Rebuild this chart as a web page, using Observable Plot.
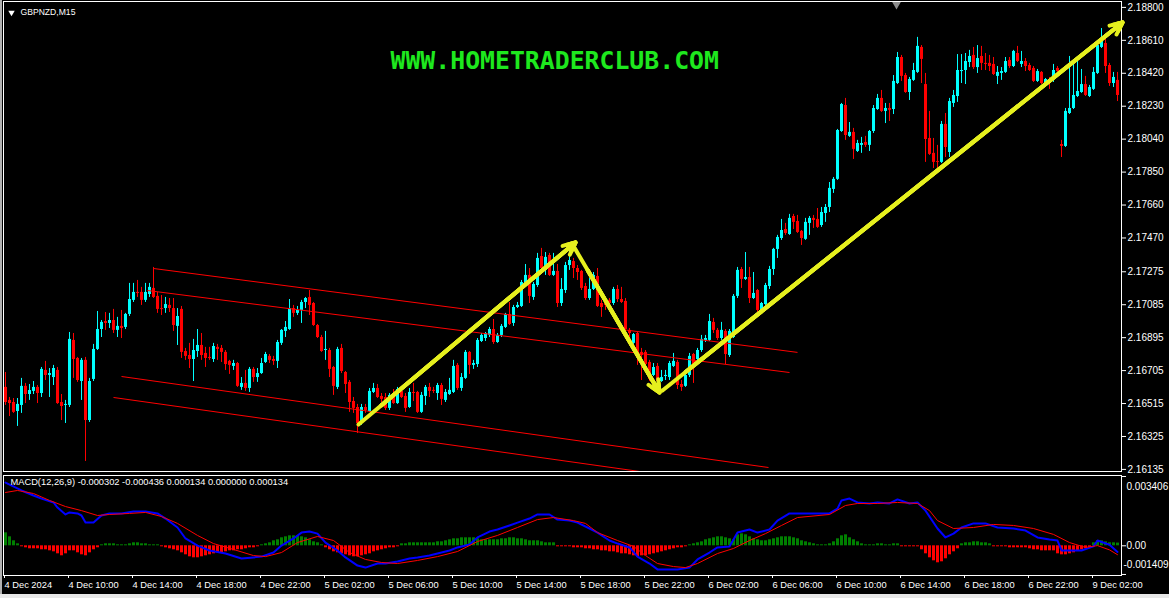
<!DOCTYPE html>
<html>
<head>
<meta charset="utf-8">
<title>GBPNZD,M15</title>
<script src="https://cdn.jsdelivr.net/npm/d3@7"></script>
<script src="https://cdn.jsdelivr.net/npm/@observablehq/plot@0.6"></script>
<style>
  html, body { margin: 0; padding: 0; background: #000; }
  #terminal { position: relative; width: 1169px; height: 598px; background: #000; overflow: hidden; }
  #terminal > svg { position: absolute; left: 0; display: block; }
  .edge { position: absolute; }
</style>
</head>
<body>
<div id="terminal"></div>
<script>
// ---- GBPNZD M15 bars, 4 Dec 2024 06:00 .. 9 Dec 2024 03:30 ----
const candleOpen = [
  2.16608,2.16533,2.16521,2.16469,2.16504,2.16614,2.16567,2.16585,2.16608,2.16573,
  2.16706,2.16677,2.16665,2.16706,2.16521,2.16504,2.16504,2.16879,2.16775,2.16642,
  2.16764,2.16417,2.16654,2.16827,2.16942,2.16988,2.16977,2.16994,2.16937,2.16960,
  2.16954,2.17029,2.17110,2.17156,2.17156,2.17110,2.17144,2.17179,2.17133,2.17063,
  2.17063,2.17081,2.17063,2.16960,2.17058,2.16815,2.16792,2.16769,2.16815,2.16850,
  2.16804,2.16781,2.16769,2.16839,2.16833,2.16810,2.16758,2.16729,2.16746,2.16608,
  2.16631,2.16602,2.16712,2.16665,2.16688,2.16752,2.16787,2.16769,2.16758,2.16862,
  2.16931,2.16942,2.17063,2.17035,2.17052,2.17098,2.17127,2.17092,2.16965,2.16896,
  2.16821,2.16821,2.16723,2.16608,2.16833,2.16694,2.16637,2.16527,2.16492,2.16406,
  2.16492,2.16469,2.16579,2.16602,2.16556,2.16550,2.16487,2.16573,2.16515,2.16585,
  2.16556,2.16492,2.16579,2.16579,2.16464,2.16556,2.16608,2.16591,2.16573,2.16619,
  2.16533,2.16567,2.16579,2.16735,2.16602,2.16660,2.16810,2.16735,2.16740,2.16873,
  2.16890,2.16908,2.16942,2.16867,2.16908,2.16954,2.17029,2.16977,2.17069,2.17075,
  2.17208,2.17254,2.17127,2.17196,2.17363,2.17283,2.17369,2.17254,2.17277,2.17092,
  2.17167,2.17311,2.17334,2.17294,2.17277,2.17190,2.17121,2.17173,2.17248,2.17092,
  2.17098,2.17110,2.17092,2.17173,2.17115,2.17104,2.16937,2.16862,2.16919,2.16810,
  2.16810,2.16752,2.16677,2.16729,2.16642,2.16671,2.16665,2.16729,2.16752,2.16625,
  2.16614,2.16677,2.16798,2.16769,2.16821,2.16879,2.16879,2.16983,2.16937,2.16890,
  2.16931,2.16792,2.16896,2.17133,2.17288,2.17231,2.17242,2.17121,2.17167,2.17046,
  2.17086,2.17190,2.17288,2.17404,2.17467,2.17519,2.17490,2.17594,2.17565,2.17508,
  2.17462,2.17554,2.17583,2.17577,2.17542,2.17611,2.17646,2.17750,2.17808,2.18084,
  2.18234,2.18056,2.18079,2.17969,2.18004,2.18021,2.18004,2.18084,2.18211,2.18275,
  2.18200,2.18217,2.18211,2.18361,2.18511,2.18407,2.18309,2.18379,2.18425,2.18569,
  2.18355,2.18044,2.17958,2.17911,2.17906,2.18125,2.17963,2.18246,2.18286,2.18430,
  2.18436,2.18482,2.18523,2.18453,2.18517,2.18477,2.18477,2.18471,2.18402,2.18419,
  2.18425,2.18494,2.18459,2.18534,2.18471,2.18488,2.18465,2.18448,2.18373,2.18425,
  2.18355,2.18384,2.18384,2.18448,2.18009,2.17998,2.18188,2.18217,2.18286,2.18309,
  2.18355,2.18286,2.18327,2.18419,2.18569,2.18592,2.18465,2.18361,2.18379
];
const candleHigh = [
  2.16694,2.16550,2.16544,2.16544,2.16660,2.16631,2.16625,2.16642,2.16619,2.16723,
  2.16758,2.16717,2.16735,2.16723,2.16567,2.16533,2.16925,2.16919,2.16781,2.16775,
  2.16781,2.16660,2.16856,2.17046,2.16994,2.17040,2.17035,2.17058,2.17012,2.17052,
  2.17035,2.17208,2.17208,2.17225,2.17185,2.17208,2.17208,2.17300,2.17156,2.17138,
  2.17127,2.17121,2.17121,2.17063,2.17075,2.16833,2.16862,2.16885,2.16942,2.16919,
  2.16839,2.16839,2.16862,2.16856,2.16850,2.16821,2.16764,2.16764,2.16752,2.16665,
  2.16706,2.16723,2.16723,2.16717,2.16775,2.16810,2.16798,2.16787,2.16879,2.16942,
  2.16988,2.17115,2.17081,2.17075,2.17110,2.17127,2.17167,2.17098,2.16971,2.16908,
  2.16931,2.16833,2.16729,2.16839,2.16856,2.16700,2.16648,2.16550,2.16510,2.16510,
  2.16510,2.16602,2.16631,2.16625,2.16573,2.16573,2.16573,2.16596,2.16608,2.16596,
  2.16573,2.16602,2.16631,2.16585,2.16579,2.16619,2.16631,2.16608,2.16631,2.16631,
  2.16596,2.16660,2.16764,2.16746,2.16688,2.16821,2.16815,2.16764,2.16890,2.16919,
  2.16925,2.16954,2.17000,2.16919,2.16971,2.17035,2.17098,2.17081,2.17098,2.17225,
  2.17317,2.17294,2.17213,2.17381,2.17410,2.17386,2.17381,2.17381,2.17317,2.17236,
  2.17329,2.17427,2.17352,2.17311,2.17283,2.17208,2.17236,2.17271,2.17294,2.17110,
  2.17121,2.17121,2.17185,2.17196,2.17185,2.17121,2.16948,2.16919,2.16925,2.16833,
  2.16821,2.16764,2.16746,2.16746,2.16706,2.16706,2.16758,2.16804,2.16764,2.16648,
  2.16688,2.16804,2.16804,2.16833,2.16908,2.16908,2.17029,2.17006,2.16948,2.16983,
  2.16942,2.16942,2.17144,2.17300,2.17300,2.17386,2.17300,2.17271,2.17173,2.17098,
  2.17208,2.17306,2.17410,2.17485,2.17577,2.17554,2.17606,2.17606,2.17600,2.17513,
  2.17583,2.17594,2.17600,2.17640,2.17646,2.17663,2.17790,2.17819,2.18096,2.18246,
  2.18275,2.18136,2.18102,2.18033,2.18050,2.18056,2.18090,2.18234,2.18298,2.18321,
  2.18246,2.18246,2.18407,2.18540,2.18523,2.18419,2.18396,2.18477,2.18627,2.18580,
  2.18419,2.18200,2.18044,2.18004,2.18142,2.18188,2.18275,2.18321,2.18528,2.18528,
  2.18534,2.18552,2.18569,2.18580,2.18575,2.18534,2.18523,2.18511,2.18459,2.18453,
  2.18511,2.18511,2.18552,2.18575,2.18546,2.18505,2.18477,2.18459,2.18442,2.18430,
  2.18390,2.18396,2.18471,2.18459,2.18033,2.18217,2.18517,2.18477,2.18494,2.18442,
  2.18402,2.18350,2.18453,2.18598,2.18678,2.18627,2.18477,2.18425,2.18425
];
const candleLow = [
  2.16504,2.16440,2.16458,2.16383,2.16458,2.16515,2.16533,2.16567,2.16515,2.16550,
  2.16648,2.16550,2.16619,2.16510,2.16417,2.16400,2.16492,2.16660,2.16637,2.16533,
  2.16181,2.16406,2.16642,2.16821,2.16896,2.16937,2.16948,2.16919,2.16896,2.16890,
  2.16942,2.17017,2.17098,2.17127,2.17081,2.17098,2.17127,2.17121,2.17035,2.17023,
  2.17035,2.17040,2.16931,2.16850,2.16775,2.16764,2.16717,2.16642,2.16781,2.16764,
  2.16723,2.16764,2.16752,2.16764,2.16752,2.16706,2.16683,2.16706,2.16608,2.16591,
  2.16585,2.16579,2.16637,2.16637,2.16683,2.16746,2.16746,2.16735,2.16717,2.16850,
  2.16896,2.16937,2.17012,2.17023,2.16977,2.17063,2.17023,2.16960,2.16890,2.16810,
  2.16764,2.16665,2.16562,2.16596,2.16688,2.16573,2.16464,2.16458,2.16342,2.16389,
  2.16458,2.16464,2.16573,2.16544,2.16521,2.16475,2.16475,2.16510,2.16510,2.16544,
  2.16464,2.16487,2.16527,2.16458,2.16458,2.16504,2.16550,2.16573,2.16533,2.16504,
  2.16521,2.16562,2.16573,2.16591,2.16585,2.16654,2.16683,2.16712,2.16723,2.16867,
  2.16873,2.16896,2.16856,2.16862,2.16896,2.16948,2.16965,2.16960,2.17063,2.17069,
  2.17202,2.17092,2.17110,2.17185,2.17283,2.17254,2.17248,2.17248,2.17069,2.17075,
  2.17150,2.17283,2.17236,2.17225,2.17167,2.17110,2.17110,2.17167,2.17069,2.17012,
  2.17052,2.17075,2.17081,2.17098,2.17092,2.16937,2.16896,2.16856,2.16735,2.16648,
  2.16723,2.16642,2.16671,2.16631,2.16637,2.16648,2.16648,2.16723,2.16596,2.16585,
  2.16608,2.16665,2.16631,2.16746,2.16810,2.16867,2.16873,2.16919,2.16879,2.16879,
  2.16740,2.16781,2.16890,2.17121,2.17179,2.17225,2.17092,2.17115,2.17040,2.17035,
  2.17081,2.17173,2.17254,2.17352,2.17456,2.17485,2.17485,2.17519,2.17496,2.17427,
  2.17456,2.17485,2.17525,2.17525,2.17531,2.17560,2.17617,2.17727,2.17802,2.18079,
  2.18033,2.18050,2.17923,2.17963,2.17958,2.17992,2.17969,2.18073,2.18206,2.18194,
  2.18130,2.18142,2.18182,2.18355,2.18373,2.18304,2.18263,2.18373,2.18419,2.18361,
  2.17906,2.17946,2.17871,2.17871,2.17900,2.17934,2.17934,2.18223,2.18252,2.18361,
  2.18355,2.18453,2.18442,2.18419,2.18436,2.18436,2.18430,2.18407,2.18355,2.18379,
  2.18419,2.18448,2.18453,2.18482,2.18453,2.18430,2.18430,2.18367,2.18367,2.18355,
  2.18350,2.18327,2.18367,2.18419,2.17934,2.17992,2.18182,2.18211,2.18280,2.18304,
  2.18286,2.18280,2.18321,2.18413,2.18563,2.18419,2.18344,2.18338,2.18257
];
const candleClose = [
  2.16521,2.16515,2.16464,2.16510,2.16614,2.16567,2.16590,2.16608,2.16573,2.16712,
  2.16677,2.16688,2.16717,2.16515,2.16498,2.16510,2.16885,2.16769,2.16648,2.16764,
  2.16417,2.16642,2.16827,2.16942,2.16983,2.16977,2.16994,2.16937,2.16960,2.16948,
  2.17029,2.17115,2.17156,2.17150,2.17110,2.17156,2.17185,2.17127,2.17058,2.17058,
  2.17086,2.17063,2.16965,2.17017,2.16810,2.16787,2.16769,2.16821,2.16850,2.16792,
  2.16775,2.16775,2.16844,2.16827,2.16810,2.16740,2.16735,2.16746,2.16614,2.16631,
  2.16602,2.16712,2.16665,2.16688,2.16746,2.16798,2.16764,2.16758,2.16867,2.16937,
  2.16954,2.17063,2.17035,2.17052,2.17098,2.17121,2.17081,2.16965,2.16896,2.16815,
  2.16827,2.16712,2.16614,2.16827,2.16700,2.16625,2.16521,2.16487,2.16400,2.16492,
  2.16475,2.16585,2.16602,2.16550,2.16539,2.16487,2.16562,2.16515,2.16596,2.16550,
  2.16487,2.16579,2.16573,2.16464,2.16562,2.16608,2.16585,2.16585,2.16619,2.16539,
  2.16579,2.16591,2.16729,2.16602,2.16665,2.16810,2.16735,2.16746,2.16879,2.16908,
  2.16919,2.16942,2.16867,2.16908,2.16960,2.17029,2.16971,2.17069,2.17081,2.17213,
  2.17254,2.17133,2.17202,2.17352,2.17294,2.17358,2.17254,2.17277,2.17092,2.17173,
  2.17311,2.17340,2.17294,2.17271,2.17179,2.17121,2.17173,2.17254,2.17075,2.17069,
  2.17081,2.17092,2.17173,2.17115,2.17098,2.16942,2.16919,2.16913,2.16804,2.16792,
  2.16740,2.16654,2.16723,2.16642,2.16665,2.16677,2.16746,2.16758,2.16619,2.16608,
  2.16677,2.16787,2.16740,2.16821,2.16885,2.16890,2.16988,2.16937,2.16890,2.16937,
  2.16798,2.16931,2.17133,2.17283,2.17231,2.17242,2.17121,2.17150,2.17052,2.17092,
  2.17196,2.17288,2.17404,2.17473,2.17513,2.17496,2.17583,2.17560,2.17502,2.17467,
  2.17560,2.17583,2.17571,2.17531,2.17617,2.17646,2.17756,2.17808,2.18090,2.18240,
  2.18061,2.18079,2.17981,2.18015,2.18015,2.18004,2.18084,2.18217,2.18275,2.18200,
  2.18217,2.18206,2.18373,2.18511,2.18402,2.18309,2.18384,2.18436,2.18575,2.18500,
  2.18038,2.17952,2.17906,2.17906,2.18125,2.17992,2.18257,2.18292,2.18436,2.18436,
  2.18488,2.18517,2.18453,2.18505,2.18477,2.18471,2.18459,2.18413,2.18425,2.18430,
  2.18488,2.18459,2.18546,2.18488,2.18488,2.18459,2.18436,2.18373,2.18430,2.18361,
  2.18384,2.18361,2.18436,2.18430,2.17998,2.18200,2.18217,2.18292,2.18315,2.18355,
  2.18292,2.18338,2.18425,2.18580,2.18609,2.18459,2.18361,2.18396,2.18292
];

// right-hand price scale
const priceTicks = [2.18800, 2.18610, 2.18420, 2.18230, 2.18040, 2.17850, 2.17660, 2.17470,
                    2.17275, 2.17085, 2.16895, 2.16705, 2.16515, 2.16325, 2.16135];

// time scale (bar index of each label)
const timeTickBars = [0, 16, 32, 48, 64, 80, 96, 112, 128, 144, 160, 176, 192, 208, 224, 240, 256, 272];
const timeTickLabels = ["4 Dec 2024", "4 Dec 10:00", "4 Dec 14:00", "4 Dec 18:00", "4 Dec 22:00",
  "5 Dec 02:00", "5 Dec 06:00", "5 Dec 10:00", "5 Dec 14:00", "5 Dec 18:00", "5 Dec 22:00",
  "6 Dec 02:00", "6 Dec 06:00", "6 Dec 10:00", "6 Dec 14:00", "6 Dec 18:00", "6 Dec 22:00", "9 Dec 02:00"];

// drawn channel lines: anchor bar / price at both ends
const channelFromBar   = [37, 35.5, 29, 27];
const channelFromPrice = [2.17294, 2.17167, 2.16671, 2.16550];
const channelToBar     = [198, 196, 190.75, 190];
const channelToPrice   = [2.16810, 2.16694, 2.16146, 2.16021];

// drawn arrows
const arrowFromBar   = [88.25, 141.75, 164.25];
const arrowFromPrice = [2.16394, 2.17433, 2.16590];
const arrowToBar     = [142.5, 163.5, 279.25];
const arrowToPrice   = [2.17444, 2.16579, 2.18713];

// MACD(12,26,9): main line and signal line, sampled at the listed bars
const macdBars = [0,4,7,9,12,13,15,16,18,19,20,22,24,26,29,32,35,38,40,43,45,48,51,55,59,62,64,67,69,72,74,76,78,80,
  83,85,88,90,93,95,98,101,103,106,108,111,113,116,118,121,123,126,128,131,133,136,138,141,143,146,148,151,153,156,
  158,161,163,166,168,171,173,176,178,181,183,186,188,191,193,196,198,202,206,208,209,211,213,216,218,221,223,226,
  228,230,233,235,237,239,242,245,248,252,255,258,261,263,264,267,269,272,273,276,278];
const macdLine = [0.00311,0.00272,0.00247,0.00232,0.00213,0.00188,0.00154,0.00164,0.00159,0.00149,0.00114,0.00114,
  0.00149,0.00159,0.00159,0.00169,0.00169,0.00159,0.00134,0.00090,0.00036,0.00001,-0.00023,-0.00038,-0.00062,-0.00057,
  -0.00053,-0.00033,0.00001,0.00036,0.00065,0.00070,0.00060,0.00016,-0.00023,-0.00057,-0.00097,-0.00107,-0.00087,
  -0.00087,-0.00077,-0.00062,-0.00057,-0.00048,-0.00038,-0.00023,-0.00008,0.00006,0.00041,0.00070,0.00080,0.00100,
  0.00114,0.00134,0.00154,0.00154,0.00129,0.00124,0.00114,0.00085,0.00065,0.00026,0.00011,-0.00008,-0.00053,-0.00087,
  -0.00116,-0.00116,-0.00116,-0.00107,-0.00067,-0.00033,-0.00008,-0.00003,0.00065,0.00080,0.00065,0.00080,0.00124,
  0.00159,0.00159,0.00159,0.00159,0.00183,0.00223,0.00232,0.00213,0.00208,0.00213,0.00208,0.00228,0.00208,0.00213,
  0.00173,0.00085,0.00041,0.00060,0.00090,0.00110,0.00110,0.00090,0.00085,0.00075,0.00041,0.00031,0.00026,-0.00023,
  -0.00023,-0.00023,-0.00003,0.00026,0.00005,-0.000302];
const signalBars = [0,3,7,11,15,19,23,26,31,35,39,43,48,52,57,62,65,69,73,78,82,86,90,94,98,103,108,113,118,123,128,
  133,137,142,145,148,153,157,160,163,167,170,173,178,182,186,190,194,198,206,210,213,218,223,228,231,233,237,242,247,
  252,257,262,266,270,273,276,278];
const signalLine = [0.00262,0.00272,0.00257,0.00223,0.00193,0.00173,0.00149,0.00154,0.00159,0.00164,0.00144,0.00110,
  0.00051,0.00011,-0.00018,-0.00048,-0.00053,-0.00033,0.00016,0.00046,0.00026,-0.00033,-0.00067,-0.00082,-0.00087,
  -0.00072,-0.00053,-0.00028,0.00021,0.00051,0.00090,0.00129,0.00139,0.00124,0.00110,0.00065,0.00026,-0.00003,-0.00048,
  -0.00087,-0.00102,-0.00107,-0.00087,-0.00038,-0.00013,0.00026,0.00060,0.00100,0.00139,0.00154,0.00198,0.00208,
  0.00208,0.00213,0.00208,0.00173,0.00124,0.00085,0.00090,0.00105,0.00100,0.00085,0.00056,0.00016,-0.00008,0.00001,
  -0.00020,-0.000436];
// MACD histogram, one value per bar
const macdHistogram = [
  0.000638,0.000442,0.000246,0.000098,-0.000049,-0.000098,-0.000147,-0.000147,-0.000147,-0.000196,
  -0.000196,-0.000246,-0.000295,-0.000393,-0.000491,-0.000393,-0.000246,-0.000246,-0.000344,-0.000442,
  -0.000491,-0.000344,-0.000196,-0.000098,0.000049,0.000098,0.000098,0.000098,0.000049,0.000049,
  0.000049,0.000098,0.000147,0.000147,0.000098,0.000098,0.000049,0.000049,0.000049,-0.000049,
  -0.000098,-0.000147,-0.000196,-0.000246,-0.000344,-0.000442,-0.00054,-0.000589,-0.000589,-0.00054,
  -0.000491,-0.000442,-0.000393,-0.000344,-0.000344,-0.000295,-0.000246,-0.000246,-0.000196,-0.000196,
  -0.000147,-0.000098,-0.000098,-0.000049,0.000049,0.000098,0.000147,0.000246,0.000295,0.000393,
  0.000442,0.000491,0.000491,0.000491,0.000442,0.000393,0.000295,0.000196,0.000147,0.000049,
  -0.000098,-0.000196,-0.000295,-0.000344,-0.000393,-0.000442,-0.000491,-0.00054,-0.00054,-0.000491,
  -0.000442,-0.000393,-0.000295,-0.000246,-0.000196,-0.000147,-0.000098,-0.000098,-0.000049,0.000098,
  0.000098,0.000147,0.000147,0.000147,0.000147,0.000147,0.000147,0.000147,0.000196,0.000196,
  0.000246,0.000295,0.000344,0.000344,0.000393,0.000393,0.000393,0.000393,0.000344,0.000295,
  0.000295,0.000295,0.000295,0.000295,0.000344,0.000344,0.000393,0.000393,0.000344,0.000344,
  0.000295,0.000246,0.000246,0.000246,0.000196,0.000147,0.000147,0.000147,-0.000049,-0.000049,
  -0.000049,-0.000049,-0.000098,-0.000098,-0.000098,-0.000147,-0.000147,-0.000196,-0.000196,-0.000246,
  -0.000246,-0.000295,-0.000295,-0.000344,-0.000393,-0.000393,-0.000442,-0.000491,-0.00054,-0.000491,
  -0.000491,-0.000442,-0.000393,-0.000344,-0.000295,-0.000246,-0.000196,-0.000147,-0.000098,-0.000098,
  -0.000049,0.000049,0.000098,0.000147,0.000196,0.000295,0.000344,0.000393,0.000442,0.000442,
  0.000393,0.000344,0.000295,0.00054,0.000589,0.00054,0.000442,0.000344,0.000295,0.000246,
  0.000246,0.000295,0.000344,0.000393,0.000442,0.000442,0.000442,0.000393,0.000344,0.000246,
  0.000196,0.000147,0.000098,0.000049,0.000049,0.000049,0.000098,0.000196,0.000344,0.000491,
  0.00054,0.000393,0.000295,0.000196,0.000098,0.000049,0.000049,0.000049,0.000098,0.000098,
  0.000049,0.000049,0.000098,0.000098,-0.000049,-0.000049,-0.000049,-0.000049,-0.000049,-0.000196,
  -0.000393,-0.000589,-0.000737,-0.000835,-0.000786,-0.000638,-0.000442,-0.000295,-0.000147,0.000098,
  0.000147,0.000147,0.000196,0.000196,0.000147,0.000147,0.000098,-0.000049,-0.000049,-0.000049,
  -0.000049,-0.000098,-0.000098,-0.000098,-0.000098,-0.000098,-0.000147,-0.000196,-0.000196,-0.000246,
  -0.000246,-0.000246,-0.000246,-0.000393,-0.000442,-0.000442,-0.000393,-0.000344,-0.000246,-0.000196,
  -0.000147,-0.000098,0.000147,0.000246,0.000246,0.000196,0.000147,0.000147,0.000134
];

// ---- build tables ----
const bars = candleOpen.map((o, i) => ({i, o, h: candleHigh[i], l: candleLow[i], c: candleClose[i]}));
const bull = bars.filter(d => d.c >= d.o);
const bear = bars.filter(d => d.c < d.o);
const channels = channelFromBar.map((b, k) => ({i1: b, p1: channelFromPrice[k], i2: channelToBar[k], p2: channelToPrice[k]}));
const arrows = arrowFromBar.map((b, k) => ({i1: b, p1: arrowFromPrice[k], i2: arrowToBar[k], p2: arrowToPrice[k]}));
const macdPts = macdBars.map((b, k) => ({i: b, v: macdLine[k]}));
const signalPts = signalBars.map((b, k) => ({i: b, v: signalLine[k]}));
const hist = macdHistogram.map((v, i) => ({i, v}));

const CYAN = "#00ffff", RED = "#ff0000", YELLOW = "#e6f01e", WHITE = "#ffffff";
const FONT = "'Liberation Sans', Arial, sans-serif";
const xDomain = [-0.5, 279];
const fmt6 = v => v.toFixed(6);

// arrow shafts plus nested heads so each head reads as a solid triangle
const arrowMarks = [5, 3.6, 2.3, 1.2].map((len, k) => Plot.arrow(arrows, {
  x1: "i1", y1: "p1", x2: "i2", y2: "p2", stroke: YELLOW, strokeWidth: 4,
  headLength: len, headAngle: 50, insetStart: k ? 30 : 0
}));

// ---- price window ----
const priceChart = Plot.plot({
  width: 1169, height: 474,
  marginLeft: 3, marginRight: 48, marginTop: 1, marginBottom: 3,
  style: {background: "#000", color: WHITE, fontFamily: FONT, fontSize: "10px", overflow: "visible"},
  x: {domain: xDomain, axis: null, label: null},
  y: {domain: [2.16123, 2.18834], label: null},
  marks: [
    Plot.frame({stroke: WHITE}),
    Plot.ruleX(bull, {x: "i", y1: "l", y2: "h", stroke: CYAN, strokeWidth: 1}),
    Plot.ruleX(bear, {x: "i", y1: "l", y2: "h", stroke: RED, strokeWidth: 1}),
    Plot.ruleX(bull, {x: "i", y1: "o", y2: "c", stroke: CYAN, strokeWidth: 3}),
    Plot.ruleX(bear, {x: "i", y1: "o", y2: "c", stroke: RED, strokeWidth: 3}),
    Plot.link(channels, {x1: "i1", y1: "p1", x2: "i2", y2: "p2", stroke: RED, strokeWidth: 1, clip: true}),
    ...arrowMarks,
    Plot.text(["WWW.HOMETRADERCLUB.COM"], {x: 96.25, y: 2.18488, textAnchor: "start", fill: "#1ee81e",
      fontFamily: "'DejaVu Sans Mono', monospace", fontWeight: "bold", fontSize: 24.8}),
    Plot.dot([0], {x: 222.75, frameAnchor: "top", dy: 3, symbol: "triangle", r: 3.2, fill: "#8c8c8c", stroke: null, rotate: 180}),
    Plot.dot([0], {frameAnchor: "top-left", dx: 8, dy: 11, symbol: "triangle", r: 2.4, fill: WHITE, stroke: null, rotate: 180}),
    Plot.text(["GBPNZD,M15"], {frameAnchor: "top-left", dx: 17, dy: 7, textAnchor: "start", lineAnchor: "top", fill: WHITE, fontSize: 8.6}),
    Plot.axisY({anchor: "right", label: null, ticks: priceTicks, tickFormat: d => d.toFixed(5), tickSize: 4, tickPadding: 2, stroke: WHITE, fill: WHITE})
  ]
});

// ---- MACD window ----
const macdChart = Plot.plot({
  width: 1169, height: 124,
  marginLeft: 3, marginRight: 48, marginTop: 1, marginBottom: 23,
  style: {background: "#000", color: WHITE, fontFamily: FONT, fontSize: "10px", overflow: "visible"},
  x: {domain: xDomain, label: null},
  y: {domain: [-0.001459, 0.003455], label: null},
  marks: [
    Plot.frame({stroke: WHITE}),
    Plot.ruleX(hist.filter(d => d.v >= 0), {x: "i", y1: 0, y2: "v", stroke: "#008000", strokeWidth: 3}),
    Plot.ruleX(hist.filter(d => d.v < 0), {x: "i", y1: 0, y2: "v", stroke: RED, strokeWidth: 3}),
    Plot.line(macdPts, {x: "i", y: "v", stroke: "#0000ff", strokeWidth: 2}),
    Plot.line(signalPts, {x: "i", y: "v", stroke: RED, strokeWidth: 1}),
    Plot.text([`MACD(12,26,9) ${fmt6(macdLine[macdLine.length - 1])} ${fmt6(signalLine[signalLine.length - 1])} ${fmt6(macdHistogram[macdHistogram.length - 1])} ${fmt6(0)} ${fmt6(macdHistogram[macdHistogram.length - 1])}`],
      {frameAnchor: "top-left", dx: 7, dy: 3, textAnchor: "start", lineAnchor: "top", fill: WHITE, fontSize: 9.3}),
    Plot.axisY({anchor: "right", label: null, ticks: [0.003406, 0, -0.001409], tickFormat: () => "", tickSize: 4, stroke: WHITE}),
    Plot.text(["0.003406"], {frameAnchor: "top-right", dx: 5, dy: 7, textAnchor: "start", fill: WHITE}),
    Plot.text(["0.00"], {y: 0, frameAnchor: "right", dx: 5, textAnchor: "start", fill: WHITE}),
    Plot.text(["-0.001409"], {frameAnchor: "bottom-right", dx: 2, dy: -8, textAnchor: "start", fill: WHITE}),
    Plot.axisX({anchor: "bottom", label: null, ticks: timeTickBars, tickFormat: d => timeTickLabels[timeTickBars.indexOf(d)],
      tickSize: 3, tickPadding: 3, textAnchor: "start", dx: -1, stroke: WHITE, fill: WHITE, fontSize: 9.3})
  ]
});

const host = document.getElementById("terminal");
priceChart.style.top = "0px";
macdChart.style.top = "474px";
host.append(priceChart, macdChart);

// window edges
for (const [l, t, w, h, c] of [[0, 0, 2, 598, "#b0b0b0"], [0, 594, 1169, 4, "#e8e8e8"]]) {
  const e = document.createElement("div");
  e.className = "edge";
  Object.assign(e.style, {left: l + "px", top: t + "px", width: w + "px", height: h + "px", background: c});
  host.append(e);
}
</script>
</body>
</html>
